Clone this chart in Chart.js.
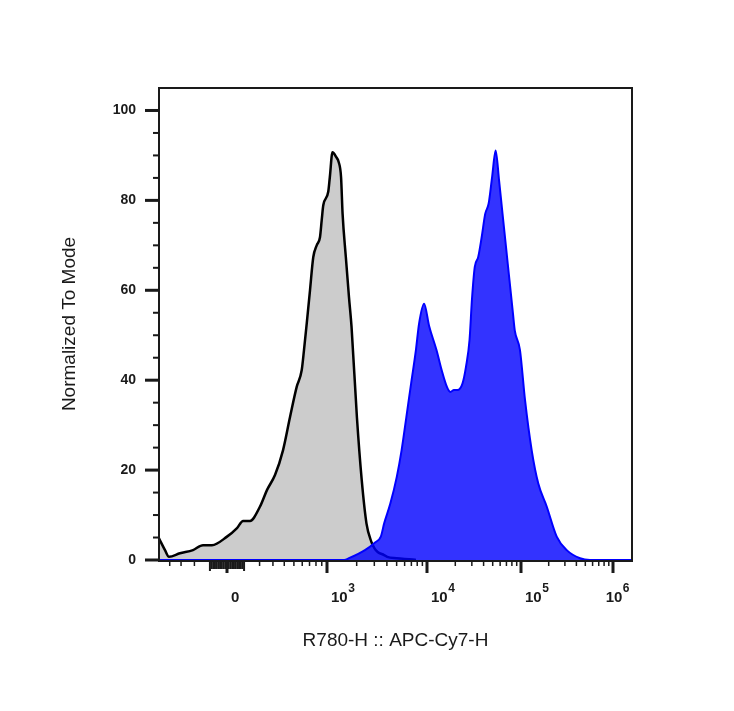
<!DOCTYPE html>
<html>
<head>
<meta charset="utf-8">
<title>R780-H :: APC-Cy7-H histogram</title>
<script src="https://cdn.jsdelivr.net/npm/chart.js@4.4.1/dist/chart.umd.min.js"></script>
<style>
  html, body { margin: 0; padding: 0; background: #fff; }
  canvas { display: block; }
</style>
</head>
<body>
<canvas id="histogram" width="734" height="711"></canvas>
<script>
// Unstained control (grey) - fluorescence vs % of mode
const controlX = [-512, -447, -407, -309, -210, -143, -88, 0, 58, 94, 137, 203, 254, 317, 388, 458,
    532, 593, 623, 660, 707, 757, 812, 868, 899, 928, 1030, 1070, 1138, 1245, 1319, 1392,
    1443, 1556, 1674, 1777, 2010, 2246, 2507, 2797, 3014, 3240, 3754, 4033, 5017, 7225, 7765];
const controlY = [4.8, 2.2, 0.7, 1.5, 2.2, 3.3, 3.3, 5.2, 7.1, 8.7, 8.7, 11.9, 15.6, 18.9, 24.4, 31.8,
    38.5, 42.2, 46.7, 52.6, 60, 67.4, 70, 71.8, 75.6, 78.9, 81.9, 85.2, 90.7, 89.6, 88.5, 85.2,
    77, 67.4, 58.5, 51.8, 31.8, 17.8, 8.1, 4.1, 2.6, 1.8, 1.1, 0.7, 0.4, 0.1, 0];

// Stained sample (blue)
const stainedX = [-512, 1499, 1674, 2420, 3014, 3483, 3754, 4335, 5017, 5598, 6243, 6963, 7765, 8346, 9357, 10548,
    12616, 14337, 16290, 17730, 19335, 21030, 23895, 26010, 28365, 30090, 32235, 35070, 38160, 41625, 45285, 49275,
    53745, 58470, 63615, 72285, 82140, 85800, 97515, 110550, 130700, 154170, 190245, 244380, 313800, 437850, 562380, 1600000];
const stainedY = [0, 0, 0.4, 2.2, 3.8, 5.2, 8.1, 12.6, 18.5, 24.4, 31.8, 39.3, 46.7, 52.6, 57, 52,
    46.7, 42.2, 38.5, 37.4, 37.8, 37.8, 39.3, 43, 49, 58, 65.2, 67.4, 71.8, 77, 79.3, 85.2,
    91.1, 84.4, 77, 65.9, 54.8, 51.1, 46.7, 35.6, 24.4, 17, 11.9, 5.2, 2.2, 0.4, 0, 0];

// x axis ticks
const xMajorTicks = [0, 1e3, 1e4, 1e5, 1e6];
const xTickLabels = ['0', '10^3', '10^4', '10^5', '10^6'];

const FONT = '"Liberation Sans", Arial, sans-serif';
const INK = '#1a1a1a';

// minor ticks: log minors for each decade, negative hundreds, dense linear ticks near zero
const xMinorTicks = [-400, -300, -200];
for (let d = 100; d < 1e6; d *= 10) {
    for (let k = 2; k <= 9; k++) xMinorTicks.push(k * d);
}
const xFineTicks = [];
for (let v = -100; v <= 100; v += 10) if (v !== 0) xFineTicks.push(v);

// biexponential-like axis: asinh, stretched piecewise between decade anchors
class BiexScale extends Chart.Scale {
    static id = 'biex';
    static defaults = {};

    determineDataLimits() {
        this.min = this.options.min;
        this.max = this.options.max;
    }
    buildTicks() {
        return xMajorTicks.map(v => ({ value: v }));
    }
    configure() {
        super.configure();
        const o = this.options;
        this._cof = o.linearWidth;
        this._au = Array.from(o.anchors).map(v => Math.asinh(v / this._cof));
        const sp = Array.from(o.spans);
        this._as = sp.map(s => s / sp[sp.length - 1]);
    }
    _toDecimal(value) {
        const u = Math.asinh(value / this._cof);
        const au = this._au, as = this._as;
        let i = 0;
        while (i < au.length - 2 && u > au[i + 1]) i++;
        return as[i] + (u - au[i]) / (au[i + 1] - au[i]) * (as[i + 1] - as[i]);
    }
    getPixelForValue(value) {
        return this.getPixelForDecimal(this._toDecimal(value));
    }
    getValueForPixel(pixel) {
        const d = this.getDecimalForPixel(pixel);
        const au = this._au, as = this._as;
        let i = 0;
        while (i < as.length - 2 && d > as[i + 1]) i++;
        const u = au[i] + (d - as[i]) / (as[i + 1] - as[i]) * (au[i + 1] - au[i]);
        return this._cof * Math.sinh(u);
    }
    getLabelForValue(value) {
        return String(value);
    }
}
Chart.register(BiexScale);

// tick marks, frame and superscript labels
const axisDecor = {
    id: 'axisDecor',
    afterDraw(chart) {
        const { ctx, chartArea: a, scales: { x, y } } = chart;
        ctx.save();
        ctx.fillStyle = INK;

        // frame
        ctx.fillRect(a.left - 1, a.top - 1, a.right - a.left + 2, 2);
        ctx.fillRect(a.left - 1, a.bottom, a.right - a.left + 2, 2);
        ctx.fillRect(a.left - 1, a.top - 1, 2, a.bottom - a.top + 3);
        ctx.fillRect(a.right - 1, a.top - 1, 2, a.bottom - a.top + 3);

        // y ticks
        y.ticks.forEach(t => {
            if (t.value > 100) return;
            const py = y.getPixelForValue(t.value);
            if (t.value % 20 === 0) ctx.fillRect(a.left - 14, py - 1.5, 14, 3);
            else ctx.fillRect(a.left - 6, py - 1, 6, 2);
        });

        // x ticks
        const b = a.bottom + 1;
        xMinorTicks.forEach(v => {
            const px = x.getPixelForValue(v);
            ctx.fillRect(px - 0.75, b, 1.5, 5);
        });
        xFineTicks.forEach(v => {
            const px = x.getPixelForValue(v);
            ctx.fillRect(px - 1, b, 2, Math.abs(v) === 100 ? 10 : 8);
        });
        xMajorTicks.forEach(v => {
            const px = x.getPixelForValue(v);
            ctx.fillRect(px - 1.5, b, 3, 12);
        });

        // x labels (10 with raised exponent)
        const baseFont = 'bold 15px ' + FONT;
        const expFont = 'bold 12px ' + FONT;
        ctx.textBaseline = 'alphabetic';
        ctx.textAlign = 'left';
        xMajorTicks.forEach((v, i) => {
            const [base, exp] = xTickLabels[i].split('^');
            ctx.font = baseFont;
            const bw = ctx.measureText(base).width;
            ctx.font = expFont;
            const ew = exp ? ctx.measureText(exp).width : 0;
            let lx = x.getPixelForValue(v) + 4;
            lx = Math.min(lx, a.right - 3 - bw - ew);
            ctx.font = baseFont;
            ctx.fillText(base, lx, a.bottom + 42);
            if (exp) {
                ctx.font = expFont;
                ctx.fillText(exp, lx + bw + 0.5, a.bottom + 32);
            }
        });
        ctx.restore();
    }
};

const toPoints = (xs, ys) => xs.map((v, i) => ({ x: v, y: ys[i] }));

new Chart(document.getElementById('histogram'), {
    type: 'line',
    data: {
        datasets: [
            {
                label: 'Stained',
                data: toPoints(stainedX, stainedY),
                borderColor: '#0000ff',
                backgroundColor: 'rgba(0, 0, 255, 0.8)',
                borderWidth: 2,
                fill: 'origin',
                pointRadius: 0,
                cubicInterpolationMode: 'monotone',
                tension: 0.4,
                order: 1
            },
            {
                label: 'Control',
                data: toPoints(controlX, controlY),
                borderColor: '#000000',
                backgroundColor: '#cccccc',
                borderWidth: 2.5,
                fill: 'origin',
                pointRadius: 0,
                cubicInterpolationMode: 'monotone',
                tension: 0.4,
                order: 2
            }
        ]
    },
    options: {
        responsive: false,
        animation: false,
        devicePixelRatio: 1,
        layout: { padding: { top: 88, right: 102, bottom: 0, left: 0 } },
        plugins: {
            legend: { display: false },
            tooltip: { enabled: false }
        },
        scales: {
            x: {
                type: 'biex',
                position: 'bottom',
                min: -512,
                max: 1600000,
                linearWidth: 300,
                anchors: [-512, 0, 1e3, 1e4, 1e5, 1e6, 1600000],
                spans: [0, 68, 168, 268, 362, 454, 473],
                grid: { display: false, drawTicks: false },
                border: { display: false },
                ticks: { display: false },
                title: {
                    display: true,
                    text: 'R780-H :: APC-Cy7-H',
                    color: INK,
                    font: { family: FONT, size: 19 },
                    padding: { top: 0, bottom: 59 }
                },
                afterFit: scale => { scale.height = 151; }
            },
            y: {
                type: 'linear',
                position: 'left',
                min: 0,
                max: 105,
                grid: { display: false, drawTicks: false },
                border: { display: false },
                ticks: {
                    stepSize: 5,
                    autoSkip: false,
                    padding: 23,
                    color: INK,
                    font: { family: FONT, size: 14, weight: 'bold' },
                    callback: v => (v % 20 === 0 && v <= 100) ? String(v) : ''
                },
                title: {
                    display: true,
                    text: 'Normalized To Mode',
                    color: INK,
                    font: { family: FONT, size: 19 },
                    padding: { top: 58, bottom: 0 }
                },
                afterFit: scale => { scale.width = 159; }
            }
        }
    },
    plugins: [axisDecor]
});
</script>
</body>
</html>
